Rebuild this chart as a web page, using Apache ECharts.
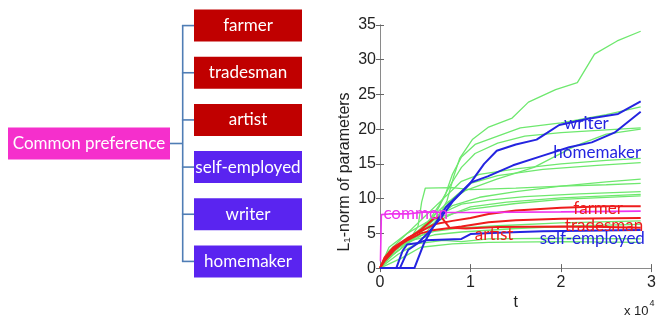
<!DOCTYPE html>
<html><head><meta charset="utf-8">
<script src="https://cdn.jsdelivr.net/npm/echarts@6/dist/echarts.min.js"></script>
<style>html,body{margin:0;padding:0;background:#fff}#c{width:659px;height:316px}</style>
</head><body><div id="c"></div><script>
// ---------- data ----------
const rootName = 'Common preference';
const leafNames = ['farmer', 'tradesman', 'artist', 'self-employed', 'writer', 'homemaker'];
const leafGroup = ['red', 'red', 'red', 'blue', 'blue', 'blue'];

const xTickLabels = ['0', '1', '2', '3'];       // t in units of 10^4
const yTickLabels = ['0', '5', '10', '15', '20', '25', '30', '35'];

// t (x 10^4), L1-norm
const commonLine = [[0.005,1],[0.015,7.7],[0.1,7.8],[0.3,7.8],[0.5,8.1],[0.7,8.0],[1.0,8.0],[2.0,8.1],[2.88,8.2]];
const farmerLine = [[0,0],[0.05,1.5],[0.15,3],[0.3,4.3],[0.45,5.3],[0.6,6.3],[0.8,6.8],[1.0,7.2],[1.2,7.8],[1.5,8.3],[2.0,8.7],[2.5,8.9],[2.88,8.9]];
const tradesmanLine = [[0,0],[0.05,1.2],[0.15,2.8],[0.3,4.0],[0.45,5.0],[0.6,5.5],[0.9,6.0],[1.2,6.6],[1.5,6.9],[2.0,7.1],[2.88,7.2]];
const artistLine = [[0,0],[0.05,1],[0.15,2.5],[0.3,4.2],[0.45,5.5],[0.6,7.2],[0.68,7.3],[0.77,5.8],[0.95,5.7],[1.3,5.9],[2.0,6.0],[2.5,5.9],[2.88,5.8]];
const selfEmployedLine = [[0,0],[0.18,0],[0.25,2.5],[0.3,3.4],[0.42,3.6],[0.5,4.0],[0.9,4.2],[1.0,4.9],[1.3,5.1],[1.8,5.3],[2.88,5.5]];
const writerLine = [[0,0],[0.22,0],[0.31,2.6],[0.41,3.5],[0.52,4.9],[0.67,7.2],[0.81,9.7],[0.99,12.1],[1.15,15],[1.29,16.9],[1.5,17.8],[1.73,18.5],[1.85,19.5],[1.98,20.6],[2.3,21.5],[2.63,22.2],[2.88,24.0]];
const homemakerLine = [[0,0],[0.38,0],[0.49,3.7],[0.59,6.0],[0.73,8.8],[0.88,10.7],[1.0,12.3],[1.19,13.2],[1.47,14.8],[1.8,16.2],[2.09,17.4],[2.34,18.1],[2.59,19.5],[2.88,22.5]];

const greenLines = [
  [[0,0],[0.1,1.5],[0.3,3.5],[0.5,5],[0.63,7],[0.74,9.7],[0.81,13],[0.88,15.8],[1.02,18.5],[1.2,20.3],[1.46,21.6],[1.64,23.9],[1.94,25.7],[2.18,26.7],[2.37,30.8],[2.62,32.7],[2.88,34.1]],
  [[0,0],[0.08,1.5],[0.25,3.5],[0.45,5.5],[0.6,7.5],[0.72,10.5],[0.8,13.5],[0.9,16],[1.05,17.8],[1.3,19],[1.55,20.2],[2.0,20.9],[2.5,22.1],[2.88,23.2]],
  [[0,0],[0.1,2],[0.3,4],[0.5,6],[0.65,9],[0.78,12],[0.9,14.5],[1.05,16.5],[1.3,18],[1.6,19],[2.0,19.5],[2.5,19.9],[2.88,20.2]],
  [[0,0],[0.12,2],[0.35,4.5],[0.55,7],[0.75,9.5],[0.95,11.2],[1.29,12.8],[1.7,14.5],[2.16,17.6],[2.5,19.3],[2.88,20.0]],
  [[0,0],[0.1,2.5],[0.3,5],[0.5,7.5],[0.7,10],[0.9,12.5],[1.1,13.5],[1.5,14.3],[2.0,15],[2.5,15.5],[2.88,15.8]],
  [[0,0],[0.15,2],[0.4,4.5],[0.6,7],[0.8,10],[1.0,12.2],[1.3,13.3],[1.8,14.2],[2.4,14.8],[2.88,15.2]],
  [[0,0],[0.1,2],[0.3,4],[0.55,6.5],[0.8,9],[1.1,10.2],[1.5,11],[2.0,11.8],[2.5,12.4],[2.88,12.8]],
  [[0,0],[0.1,1.5],[0.3,3.5],[0.42,6],[0.46,9.5],[0.5,11.5],[0.8,11.6],[1.0,11.3],[1.5,11.5],[2.0,11.8],[2.5,12],[2.88,12.2]],
  [[0,0],[0.1,2],[0.3,4],[0.5,6],[0.7,8],[0.9,9.2],[1.2,9.8],[1.6,10.3],[2.2,10.7],[2.88,11.0]],
  [[0,0],[0.15,2.5],[0.4,5],[0.6,6.5],[0.8,7.8],[1.0,8.8],[1.4,9.5],[2.0,10.1],[2.88,10.6]],
  [[0,0],[0.1,3],[0.3,5],[0.5,6.5],[0.7,7.5],[1.0,8.5],[1.5,9.3],[2.0,9.9],[2.88,10.4]],
  [[0,0],[0.2,3],[0.4,4.5],[0.6,5.3],[0.9,5.8],[1.3,6.1],[2.0,6.5],[2.88,6.8]],
  [[0,0],[0.15,2.5],[0.35,4],[0.6,4.8],[0.9,5.2],[1.5,5.7],[2.2,6.1],[2.88,6.3]],
  [[0,0],[0.2,2],[0.4,3.5],[0.7,4],[0.9,3.8],[1.2,4.2],[2.0,4.3],[2.88,4.2]],
  [[0,0],[0.25,1.5],[0.45,3],[0.8,3.5],[1.2,3.7],[2.0,3.8],[2.88,3.7]]
];

// ---------- styles ----------
const C_RED_BOX = '#c00000', C_BLUE_BOX = '#5a24f0', C_ROOT = '#f52fcc', C_LINK = '#4f7db5';
const C_GREEN = '#6ee86e', C_RED = '#ee1c1c', C_BLUE = '#2424e0', C_MAG = '#ee33ee';
const BOX_FONT = 'Lato, "Open Sans", sans-serif';
const AX_FONT = '"Liberation Sans", Arial, sans-serif';

const chart = echarts.init(document.getElementById('c'), null, {renderer: 'canvas'});

function lineSeries(data, color, width, label, spot) {
  const s = {
    type: 'line', data: data, xAxisIndex: 0, yAxisIndex: 0,
    symbol: 'none', showSymbol: false, silent: true, animation: false,
    lineStyle: {color: color, width: width}
  };
  if (label) {
    s.markPoint = {
      silent: true, animation: false, symbol: 'circle', symbolSize: 0,
      label: {show: true, position: 'inside', formatter: label, color: color,
              fontFamily: BOX_FONT, fontSize: 17},
      data: [{coord: spot}]
    };
  }
  return s;
}

const series = [];
greenLines.forEach(d => series.push(lineSeries(d, C_GREEN, 1.3)));
series.push(lineSeries(farmerLine, C_RED, 2, 'farmer', [2.41, 8.6]));
series.push(lineSeries(tradesmanLine, C_RED, 2, 'tradesman', [2.475, 6.2]));
series.push(lineSeries(artistLine, C_RED, 2, 'artist', [1.26, 4.8]));
series.push(lineSeries(commonLine, C_MAG, 1.6, 'common', [0.395, 7.9]));
series.push(lineSeries(selfEmployedLine, C_BLUE, 2, 'self-employed', [2.345, 4.2]));
series.push(lineSeries(writerLine, C_BLUE, 2, 'writer', [2.28, 20.8]));
series.push(lineSeries(homemakerLine, C_BLUE, 2, 'homemaker', [2.40, 16.7]));

// tree diagram (leaf boxes placed on a category axis)
const BOX_L = 194, BOX_R = 302, TRUNK = 182.7, ROOT_L = 8, ROOT_R = 170, BOX_H = 32;
series.push({
  type: 'custom', xAxisIndex: 2, yAxisIndex: 2, silent: true, animation: false,
  data: leafNames.map((n, i) => [0, i]),
  renderItem: function (params, api) {
    const i = api.value(1);
    const p = api.coord([BOX_L, i]);
    const q = api.coord([BOX_R, i]);
    const t = api.coord([TRUNK, i]);
    const children = [];
    if (i < leafNames.length - 1) {
      const nxt = api.coord([TRUNK, i + 1]);
      children.push({type: 'line', shape: {x1: t[0], y1: t[1], x2: nxt[0], y2: nxt[1]},
                     style: {stroke: C_LINK, lineWidth: 1.6}});
    }
    children.push({type: 'line', shape: {x1: t[0] - 0.8, y1: t[1], x2: p[0], y2: p[1]},
                   style: {stroke: C_LINK, lineWidth: 1.6}});
    children.push({type: 'rect', shape: {x: p[0], y: p[1] - BOX_H / 2, width: q[0] - p[0], height: BOX_H},
                   style: {fill: leafGroup[i] === 'red' ? C_RED_BOX : C_BLUE_BOX}});
    children.push({type: 'text', style: {text: leafNames[i], x: (p[0] + q[0]) / 2, y: p[1],
                   align: 'center', verticalAlign: 'middle', fill: '#fff',
                   fontSize: 17, fontFamily: BOX_FONT}});
    return {type: 'group', children: children};
  }
});
series.push({
  type: 'custom', xAxisIndex: 2, yAxisIndex: 2, silent: true, animation: false,
  data: [[0, 0]],
  renderItem: function (params, api) {
    const mid = Math.floor((leafNames.length - 1) / 2);
    const a = api.coord([ROOT_L, mid]), b = api.coord([ROOT_L, mid + 1]);
    const r = api.coord([ROOT_R, mid]), t = api.coord([TRUNK, mid]);
    const cy = (a[1] + b[1]) / 2;
    return {type: 'group', children: [
      {type: 'line', shape: {x1: r[0], y1: cy, x2: t[0], y2: cy}, style: {stroke: C_LINK, lineWidth: 1.6}},
      {type: 'rect', shape: {x: a[0], y: cy - BOX_H / 2, width: r[0] - a[0], height: BOX_H}, style: {fill: C_ROOT}},
      {type: 'text', style: {text: rootName, x: (a[0] + r[0]) / 2, y: cy, align: 'center',
        verticalAlign: 'middle', fill: '#fff', fontSize: 17, fontFamily: BOX_FONT}}
    ]};
  }
});

const frameLine = {show: true, lineStyle: {color: '#8a8a8a', width: 1}};
const inTicks = {show: true, inside: true, length: 4, lineStyle: {color: '#666'}};

chart.setOption({
  animation: false,
  backgroundColor: '#fff',
  grid: [
    {left: 380, top: 25, right: 2, bottom: 39, containLabel: false},
    {left: 0, top: 2, width: 330, height: 283}
  ],
  xAxis: [
    {type: 'value', gridIndex: 0, min: 0, max: 3, interval: 1, position: 'bottom',
     axisLine: frameLine, axisTick: inTicks, splitLine: {show: false},
     axisLabel: {margin: 6, color: '#222', fontSize: 16, fontFamily: AX_FONT,
                 formatter: v => xTickLabels[Math.round(v)]},
     name: 't', nameLocation: 'middle', nameGap: 19,
     nameTextStyle: {color: '#222', fontSize: 16, fontFamily: AX_FONT}},
    {type: 'value', gridIndex: 0, min: 0, max: 3, interval: 1, position: 'top',
     axisLine: frameLine, axisTick: inTicks, axisLabel: {show: false}, splitLine: {show: false}},
    {type: 'value', gridIndex: 1, min: 0, max: 330, show: false}
  ],
  yAxis: [
    {type: 'value', gridIndex: 0, min: 0, max: 35, interval: 5, position: 'left',
     axisLine: frameLine, axisTick: inTicks, splitLine: {show: false},
     axisLabel: {margin: 4, color: '#222', fontSize: 16, fontFamily: AX_FONT,
                 formatter: v => yTickLabels[Math.round(v / 5)]}},
    {type: 'value', gridIndex: 0, min: 0, max: 35, interval: 5, position: 'right',
     axisLine: frameLine, axisTick: inTicks, axisLabel: {show: false}, splitLine: {show: false}},
    {type: 'category', gridIndex: 1, data: leafNames, inverse: true, show: false}
  ],
  graphic: [
    {type: 'text', x: 345, y: 172, rotation: Math.PI / 2, silent: true,
     style: {text: 'L\u2081-norm of parameters', align: 'center', verticalAlign: 'middle',
             fill: '#222', fontSize: 16, fontFamily: AX_FONT}},
    {type: 'text', x: 624, y: 299, silent: true,
     style: {text: '{a|x 10}{b|4}', rich: {
       a: {fontSize: 13, fontFamily: AX_FONT, fill: '#222', color: '#222', verticalAlign: 'bottom', padding: [6, 0, 0, 0]},
       b: {fontSize: 9, fontFamily: AX_FONT, fill: '#222', color: '#222', verticalAlign: 'top', padding: [0, 0, 8, 1]}
     }}}
  ],
  series: series
});
</script></body></html>
